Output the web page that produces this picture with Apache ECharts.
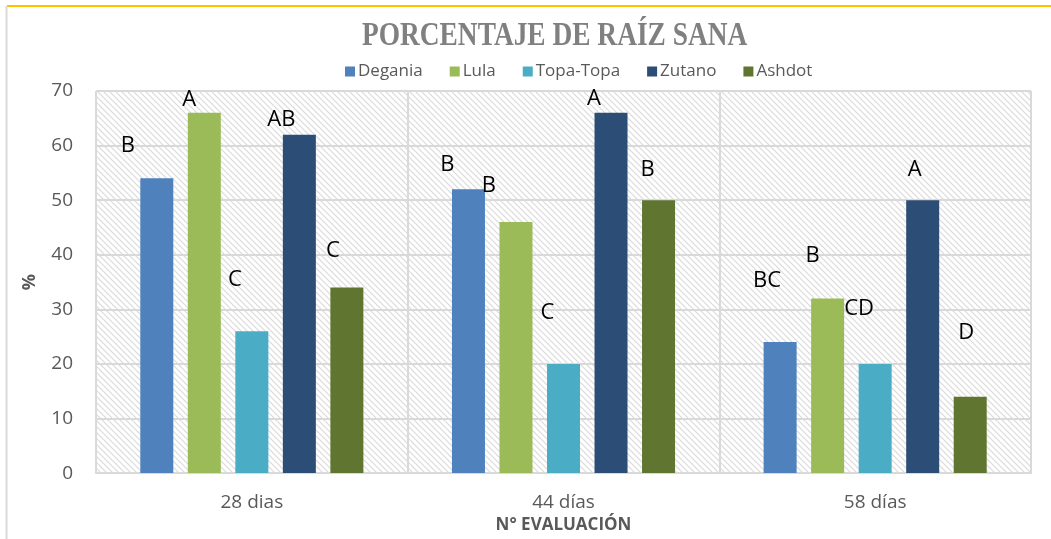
<!DOCTYPE html>
<html>
<head>
<meta charset="utf-8">
<script src="https://cdn.jsdelivr.net/npm/echarts@6/dist/echarts.min.js"></script>
<style>
html,body{margin:0;padding:0;background:#fff;}
#chart{width:1051px;height:539px;}
</style>
</head>
<body>
<div id="chart"></div>
<script>
// ---- data ----
const categories = ['28 dias', '44 días', '58 días'];
const seriesNames = ['Degania', 'Lula', 'Topa-Topa', 'Zutano', 'Ashdot'];
const degania = [54, 52, 24];
const lula = [66, 46, 32];
const topaTopa = [26, 20, 20];
const zutano = [62, 66, 50];
const ashdot = [34, 50, 14];
const lettersDegania = ['B', 'B', 'BC'];
const lettersLula = ['A', 'B', 'B'];
const lettersTopaTopa = ['C', 'C', 'CD'];
const lettersZutano = ['AB', 'A', 'A'];
const lettersAshdot = ['C', 'B', 'D'];
const yTicks = [0, 10, 20, 30, 40, 50, 60, 70];

// ---- presentation ----
const colors = ['#4f81bd', '#9bbb59', '#4bacc6', '#2c4d75', '#5f7530'];
const values = [degania, lula, topaTopa, zutano, ashdot];
const letters = [lettersDegania, lettersLula, lettersTopaTopa, lettersZutano, lettersAshdot];
// label offsets [dx, dy] relative to the top of each bar (layout only)
const labelShift = [
  [[-29, -22], [-21, -14], [-13, -50]],
  [[-15, -2], [-27, -25], [-15, -32]],
  [[-17, -40], [-16, -40], [-16, -44]],
  [[-18, -4], [-17, -3], [-8, -19]],
  [[-14, -26], [-11, -19], [-4, -53]]
];

function hatch() {
  const c = document.createElement('canvas');
  c.width = 6; c.height = 6;
  const g = c.getContext('2d');
  g.fillStyle = '#ffffff';
  g.fillRect(0, 0, 6, 6);
  g.strokeStyle = '#dadada';
  g.lineWidth = 1.2;
  for (let k = -6; k <= 6; k += 6) {
    g.beginPath();
    g.moveTo(k - 1, -1);
    g.lineTo(k + 7, 7);
    g.stroke();
  }
  return c;
}

const chart = echarts.init(document.getElementById('chart'), null, {renderer: 'canvas'});

const series = seriesNames.map((name, i) => ({
  name: name,
  type: 'bar',
  barWidth: 33,
  barGap: '44%',
  itemStyle: {color: colors[i]},
  data: values[i].map((v, j) => ({
    value: v,
    label: {
      show: true,
      position: 'top',
      distance: 0,
      formatter: letters[i][j],
      offset: labelShift[i][j],
      color: '#000000',
      fontFamily: 'Open Sans',
      fontSize: 22,
      lineHeight: 22
    }
  }))
}));

chart.setOption({
  animation: false,
  backgroundColor: '#ffffff',
  color: colors,
  graphic: [
    {type: 'line', shape: {x1: 7, y1: 6, x2: 1051, y2: 6}, style: {stroke: '#ffc000', lineWidth: 2}},
    {type: 'line', shape: {x1: 6.5, y1: 6, x2: 6.5, y2: 560}, style: {stroke: '#d9d9d9', lineWidth: 2}},
    {type: 'text', x: 362, y: 20, scaleX: 0.83, style: {
      text: 'PORCENTAJE DE RAÍZ SANA', fill: '#808080',
      font: 'bold 33px "Liberation Serif", "DejaVu Serif", serif'
    }}
  ],
  legend: {
    data: seriesNames,
    left: 340,
    top: 58,
    icon: 'rect',
    itemWidth: 10,
    itemHeight: 10,
    itemGap: 27,
    textStyle: {color: '#595959', fontFamily: 'Open Sans', fontSize: 17, padding: [0, 0, 0, -2]}
  },
  grid: {
    left: 96, top: 91, width: 935, height: 389,
    show: true,
    borderWidth: 0,
    backgroundColor: {image: hatch(), repeat: 'repeat'}
  },
  xAxis: {
    type: 'category',
    data: categories,
    name: 'N° EVALUACIÓN',
    nameLocation: 'middle',
    nameGap: 38,
    nameTextStyle: {color: '#595959', fontFamily: 'Open Sans', fontWeight: 'bold', fontSize: 17},
    axisLine: {lineStyle: {color: '#d9d9d9', width: 2}},
    axisTick: {show: false},
    axisLabel: {color: '#595959', fontFamily: 'Open Sans', fontSize: 19, margin: 20},
    splitLine: {show: true, lineStyle: {color: '#d9d9d9', width: 2}}
  },
  yAxis: {
    type: 'value',
    min: yTicks[0],
    max: yTicks[yTicks.length - 1],
    interval: 10,
    name: '%',
    nameLocation: 'middle',
    nameGap: 57,
    nameRotate: 90,
    nameTextStyle: {color: '#595959', fontFamily: 'Open Sans', fontWeight: 'bold', fontSize: 18},
    axisLine: {show: false},
    axisTick: {show: false},
    axisLabel: {color: '#595959', fontFamily: 'Open Sans', fontSize: 19, margin: 23},
    splitLine: {show: true, lineStyle: {color: '#d9d9d9', width: 2}}
  },
  series: series
});
</script>
</body>
</html>
